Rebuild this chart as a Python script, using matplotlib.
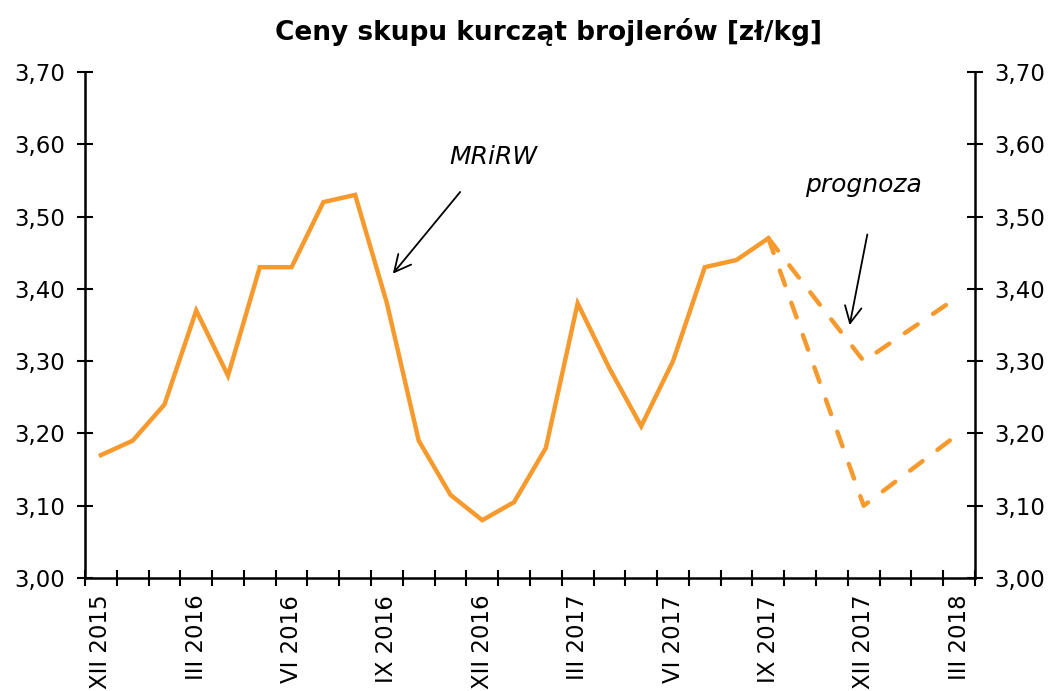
import matplotlib

matplotlib.use("Agg")
import matplotlib.pyplot as plt
import numpy as np

# Monthly buying-in prices of broiler chickens (PLN/kg), MRiRW data + forecast
MONTHS = [
    "XII 2015", "I 2016", "II 2016", "III 2016", "IV 2016", "V 2016", "VI 2016",
    "VII 2016", "VIII 2016", "IX 2016", "X 2016", "XI 2016", "XII 2016",
    "I 2017", "II 2017", "III 2017", "IV 2017", "V 2017", "VI 2017",
    "VII 2017", "VIII 2017", "IX 2017", "X 2017", "XI 2017", "XII 2017",
    "I 2018", "II 2018", "III 2018",
]
ACTUAL = [
    3.17, 3.19, 3.24, 3.37, 3.28, 3.43, 3.43, 3.52, 3.53, 3.38, 3.19, 3.115,
    3.08, 3.105, 3.18, 3.38, 3.29, 3.21, 3.30, 3.43, 3.44, 3.47,
]
FORECAST_MONTHS = ["IX 2017", "XII 2017", "III 2018"]
FORECAST_HIGH = [3.47, 3.30, 3.39]
FORECAST_LOW = [3.47, 3.10, 3.20]
LABELLED = ["XII 2015", "III 2016", "VI 2016", "IX 2016", "XII 2016", "III 2017",
            "VI 2017", "IX 2017", "XII 2017", "III 2018"]

ORANGE = "#F79A2E"
FONT = 16.5


def style_axis(ax, side):
    ax.set_ylim(3.0, 3.7)
    ax.set_yticks(np.arange(3.0, 3.701, 0.1))
    ax.set_yticklabels([f"{v:.2f}".replace(".", ",") for v in np.arange(3.0, 3.701, 0.1)])
    ax.tick_params(axis="y", direction="inout", length=12, width=1.5, labelsize=FONT,
                   pad=8, left=(side == "left"), right=(side == "right"),
                   labelleft=(side == "left"), labelright=(side == "right"))
    for name, spine in ax.spines.items():
        spine.set_visible(name in (side, "bottom"))
        spine.set_linewidth(1.8)


fig = plt.figure(figsize=(10.48, 6.91), dpi=100)
ax = fig.add_axes([0.0811, 0.1635, 0.8492, 0.7323])
x_all = np.arange(len(MONTHS))
idx = {m: i for i, m in enumerate(MONTHS)}

ax.plot(x_all[: len(ACTUAL)], ACTUAL, color=ORANGE, lw=3.2, solid_joinstyle="miter")
fx = [idx[m] for m in FORECAST_MONTHS]
dash = (0, (3.5, 4.2))
ax.plot(fx, FORECAST_HIGH, color=ORANGE, lw=3.2, ls=dash, dash_capstyle="round")
ax.plot(fx, FORECAST_LOW, color=ORANGE, lw=3.2, ls=dash, dash_capstyle="round")

ax.set_xlim(-0.5, len(MONTHS) - 0.5)
ax.set_xticks(np.arange(-0.5, len(MONTHS), 1.0))
ax.set_xticklabels([])
ax.tick_params(axis="x", which="major", direction="inout", length=12, width=1.5)
ax.set_xticks([idx[m] for m in LABELLED], minor=True)
ax.set_xticklabels(LABELLED, minor=True, rotation=90, fontsize=FONT, va="top")
ax.tick_params(axis="x", which="minor", length=0, pad=12)
style_axis(ax, "left")

ax2 = ax.twinx()
style_axis(ax2, "right")
ax2.spines["bottom"].set_visible(False)

ax.annotate("", xy=(9.13, 3.418), xytext=(11.36, 3.537),
            arrowprops=dict(arrowstyle="->", color="black", lw=1.3, mutation_scale=30))
ax.text(12.34, 3.582, "MRiRW", fontsize=FONT + 1.5, style="italic", ha="center", va="center")
ax.annotate("", xy=(23.54, 3.346), xytext=(24.13, 3.479),
            arrowprops=dict(arrowstyle="->", color="black", lw=1.3, mutation_scale=30))
ax.text(23.98, 3.544, "prognoza", fontsize=FONT + 1.5, style="italic", ha="center", va="center")

fig.text(0.523, 0.953, "Ceny skupu kurcząt brojlerów [zł/kg]", fontsize=19,
         fontweight="bold", ha="center", va="center")

fig.savefig("out.png", dpi=100)
